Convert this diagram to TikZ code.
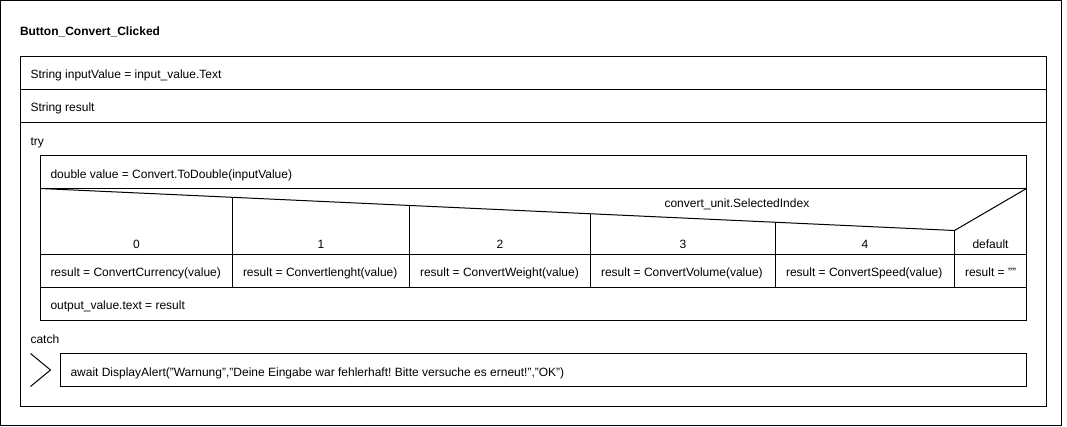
\documentclass[tikz,border=0pt]{standalone}
\usepackage{fontspec}
\setmainfont[Ligatures=NoCommon]{Liberation Sans}
\newcommand{\dq}{\char34\relax}
\frenchspacing
\begin{document}
\begin{tikzpicture}[x=1pt,y=-1pt,line width=1pt,
  txt/.style={anchor=base west,inner sep=0pt,font=\fontsize{12}{14}\selectfont},
  ctxt/.style={anchor=base,inner sep=0pt,font=\fontsize{12}{14}\selectfont},
  ttl/.style={anchor=base west,inner sep=0pt,font=\fontsize{12}{14}\selectfont\bfseries},
  frame/.style={draw=black,line width=1pt}]
\useasboundingbox (0,0) rectangle (1067,427);
% outer frames
\draw[frame] (0.5,0.5) rectangle (1061.5,425.5);
\node[ttl] (title) at (19.5,36) {Button\_Convert\_Clicked};
\draw[frame] (20.5,56.5) rectangle (1046.5,406.5);
\draw[frame] (20.5,89.5) -- (1046.5,89.5);
\draw[frame] (20.5,122.5) -- (1046.5,122.5);
\node[txt] (s1) at (30,79) {String inputValue = input\_value.Text};
\node[txt] (s2) at (30,112) {String result};
\node[txt] (try) at (30,145.5) {try};
% try block
\draw[frame] (40.5,155.5) rectangle (1026.5,320.5);
\draw[frame] (40.5,188.5) -- (1026.5,188.5);
\node[txt] (dv) at (50,178.5) {double value = Convert.ToDouble(inputValue)};
% case header
\coordinate (dl) at (40.5,188.5);
\coordinate (dm) at (954.5,230.5);
\coordinate (dr) at (1026.5,188.5);
\draw[frame] (dl) -- (dm) -- (dr);
\node[txt] (sel) at (664,208) {convert\_unit.SelectedIndex};
\draw[frame] (232.5,197.3) -- (232.5,287.5);
\draw[frame] (409.5,205.5) -- (409.5,287.5);
\draw[frame] (590.5,213.8) -- (590.5,287.5);
\draw[frame] (775.5,222.3) -- (775.5,287.5);
\draw[frame] (dm) -- (954.5,287.5);
\draw[frame] (40.5,254.5) -- (1026.5,254.5);
\draw[frame] (40.5,287.5) -- (1026.5,287.5);
\node[ctxt] (c0) at (136.5,248.5) {0};
\node[ctxt] (c1) at (321,248.5) {1};
\node[ctxt] (c2) at (500,248.5) {2};
\node[ctxt] (c3) at (683,248.5) {3};
\node[ctxt] (c4) at (865,248.5) {4};
\node[ctxt] (cd) at (990.5,248.5) {default};
\node[txt] (r0) at (50,277) {result = ConvertCurrency(value)};
\node[txt] (r1) at (242.5,277) {result = Convertlenght(value)};
\node[txt] (r2) at (419.5,277) {result = ConvertWeight(value)};
\node[txt] (r3) at (600.5,277) {result = ConvertVolume(value)};
\node[txt] (r4) at (785.5,277) {result = ConvertSpeed(value)};
\node[txt] (rd) at (964.5,277) {result = \dq\dq};
\node[txt] (out) at (50,309.5) {output\_value.text = result};
% catch
\node[txt] (catch) at (30,343.5) {catch};
\draw[frame] (30.5,353.5) -- (50.5,370) -- (30.5,386.5);
\draw[frame] (60.5,353.5) rectangle (1026.5,386.5);
\node[txt] (alert) at (70,376.5) {await DisplayAlert(\dq Warnung\dq,\dq Deine Eingabe war fehlerhaft! Bitte versuche es erneut!\dq,\dq OK\dq)};
\end{tikzpicture}
\end{document}
